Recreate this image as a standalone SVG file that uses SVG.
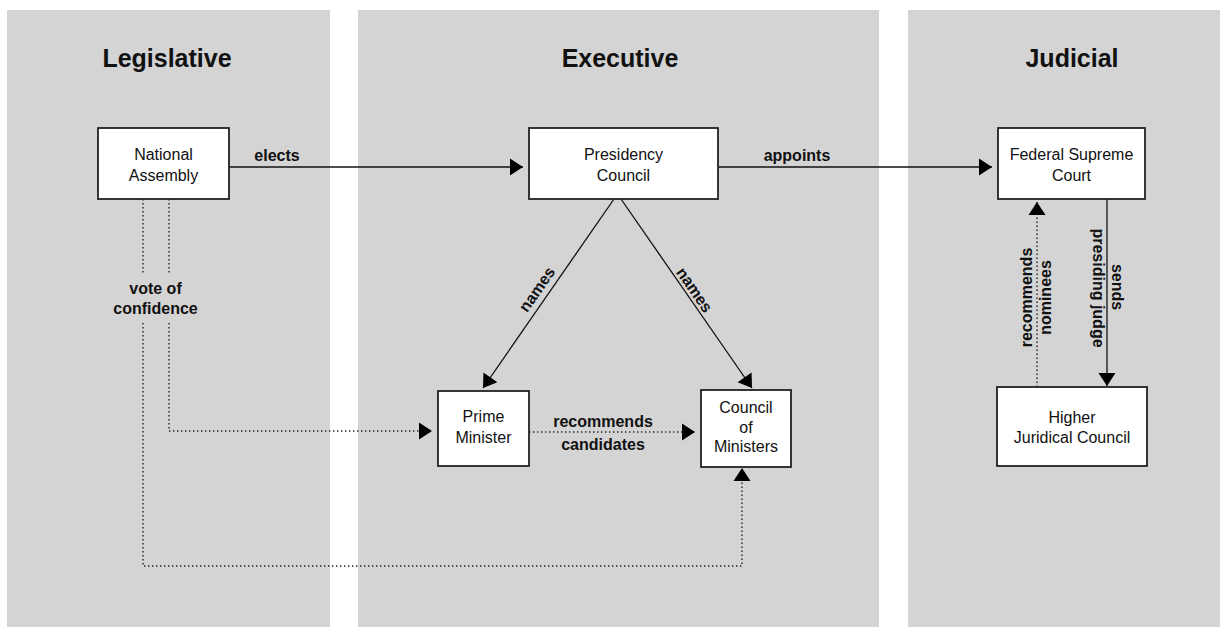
<svg xmlns="http://www.w3.org/2000/svg" width="1220" height="627" viewBox="0 0 1220 627">
<style>
.panel{fill:#d4d4d4}
.box{fill:#fff;stroke:#222;stroke-width:1.8}
.t{font-family:"Liberation Sans",Arial,Helvetica,sans-serif;font-size:16px;fill:#111;text-anchor:middle}
.b{font-weight:bold}
.h{font-family:"Liberation Sans",Arial,Helvetica,sans-serif;font-size:25px;font-weight:bold;fill:#111;text-anchor:middle}
.ln{fill:none;stroke:#111;stroke-width:1.3}
.dot{fill:none;stroke:#222;stroke-width:1.4;stroke-dasharray:1.4 2.6}
</style>
<defs>
<marker id="ah" markerUnits="userSpaceOnUse" markerWidth="14" markerHeight="17" refX="13" refY="8.5" orient="auto" overflow="visible">
<path d="M0,0 L13,8.5 L0,17 z" fill="#000"/>
</marker>
</defs>
<g id="panels">
<rect class="panel" x="7" y="10" width="323" height="617"/>
<rect class="panel" x="358" y="10" width="521" height="617"/>
<rect class="panel" x="908" y="10" width="312" height="617"/>
<text class="h" x="167" y="67">Legislative</text>
<text class="h" x="620" y="67">Executive</text>
<text class="h" x="1072" y="67">Judicial</text>
</g>
<g id="connectors">
<path class="ln" d="M229,167 H523" marker-end="url(#ah)"/>
<path class="ln" d="M718,167 H992" marker-end="url(#ah)"/>
<path class="ln" d="M614,199 L483,388" marker-end="url(#ah)"/>
<path class="ln" d="M621,199 L752,388" marker-end="url(#ah)"/>
<path class="dot" d="M169,199 V274"/>
<path class="dot" d="M169,323 V431 H432" marker-end="url(#ah)"/>
<path class="dot" d="M143,199 V274"/>
<path class="dot" d="M143,323 V566 H742 V468" marker-end="url(#ah)"/>
<path class="dot" d="M529,432 H695" marker-end="url(#ah)"/>
<path class="dot" d="M1037,387 V202" marker-end="url(#ah)"/>
<path class="ln" d="M1107,199 V386" marker-end="url(#ah)"/>
<text class="t b" x="277" y="161">elects</text>
<text class="t b" x="797" y="161">appoints</text>
<text class="t b" x="155.5" y="294">vote of</text>
<text class="t b" x="155.5" y="314">confidence</text>
<text class="t b" transform="translate(541.5,292.5) rotate(-55.3)">names</text>
<text class="t b" transform="translate(690,293) rotate(55.3)">names</text>
<text class="t b" x="603" y="427">recommends</text>
<text class="t b" x="603" y="450">candidates</text>
<text class="t b" transform="translate(1032,297.5) rotate(-90)">recommends</text>
<text class="t b" transform="translate(1051,297.5) rotate(-90)">nominees</text>
<text class="t b" transform="translate(1112,287) rotate(90)">sends</text>
<text class="t b" transform="translate(1093,288) rotate(90)">presiding judge</text>
</g>
<g id="national-assembly">
<rect class="box" x="98" y="128" width="131" height="71"/>
<text class="t" x="163.5" y="160">National</text>
<text class="t" x="163.5" y="181">Assembly</text>
</g>
<g id="presidency-council">
<rect class="box" x="529" y="128" width="189" height="71"/>
<text class="t" x="623.5" y="160">Presidency</text>
<text class="t" x="623.5" y="181">Council</text>
</g>
<g id="federal-supreme-court">
<rect class="box" x="998" y="128" width="147" height="71"/>
<text class="t" x="1071.5" y="160">Federal Supreme</text>
<text class="t" x="1071.5" y="181">Court</text>
</g>
<g id="prime-minister">
<rect class="box" x="438" y="391" width="91" height="75"/>
<text class="t" x="483.5" y="422">Prime</text>
<text class="t" x="483.5" y="443">Minister</text>
</g>
<g id="council-of-ministers">
<rect class="box" x="701" y="390" width="90" height="77"/>
<text class="t" x="746" y="413">Council</text>
<text class="t" x="746" y="433">of</text>
<text class="t" x="746" y="452">Ministers</text>
</g>
<g id="higher-juridical-council">
<rect class="box" x="997" y="387" width="150" height="79"/>
<text class="t" x="1072" y="423">Higher</text>
<text class="t" x="1072" y="443">Juridical Council</text>
</g>
</svg>
